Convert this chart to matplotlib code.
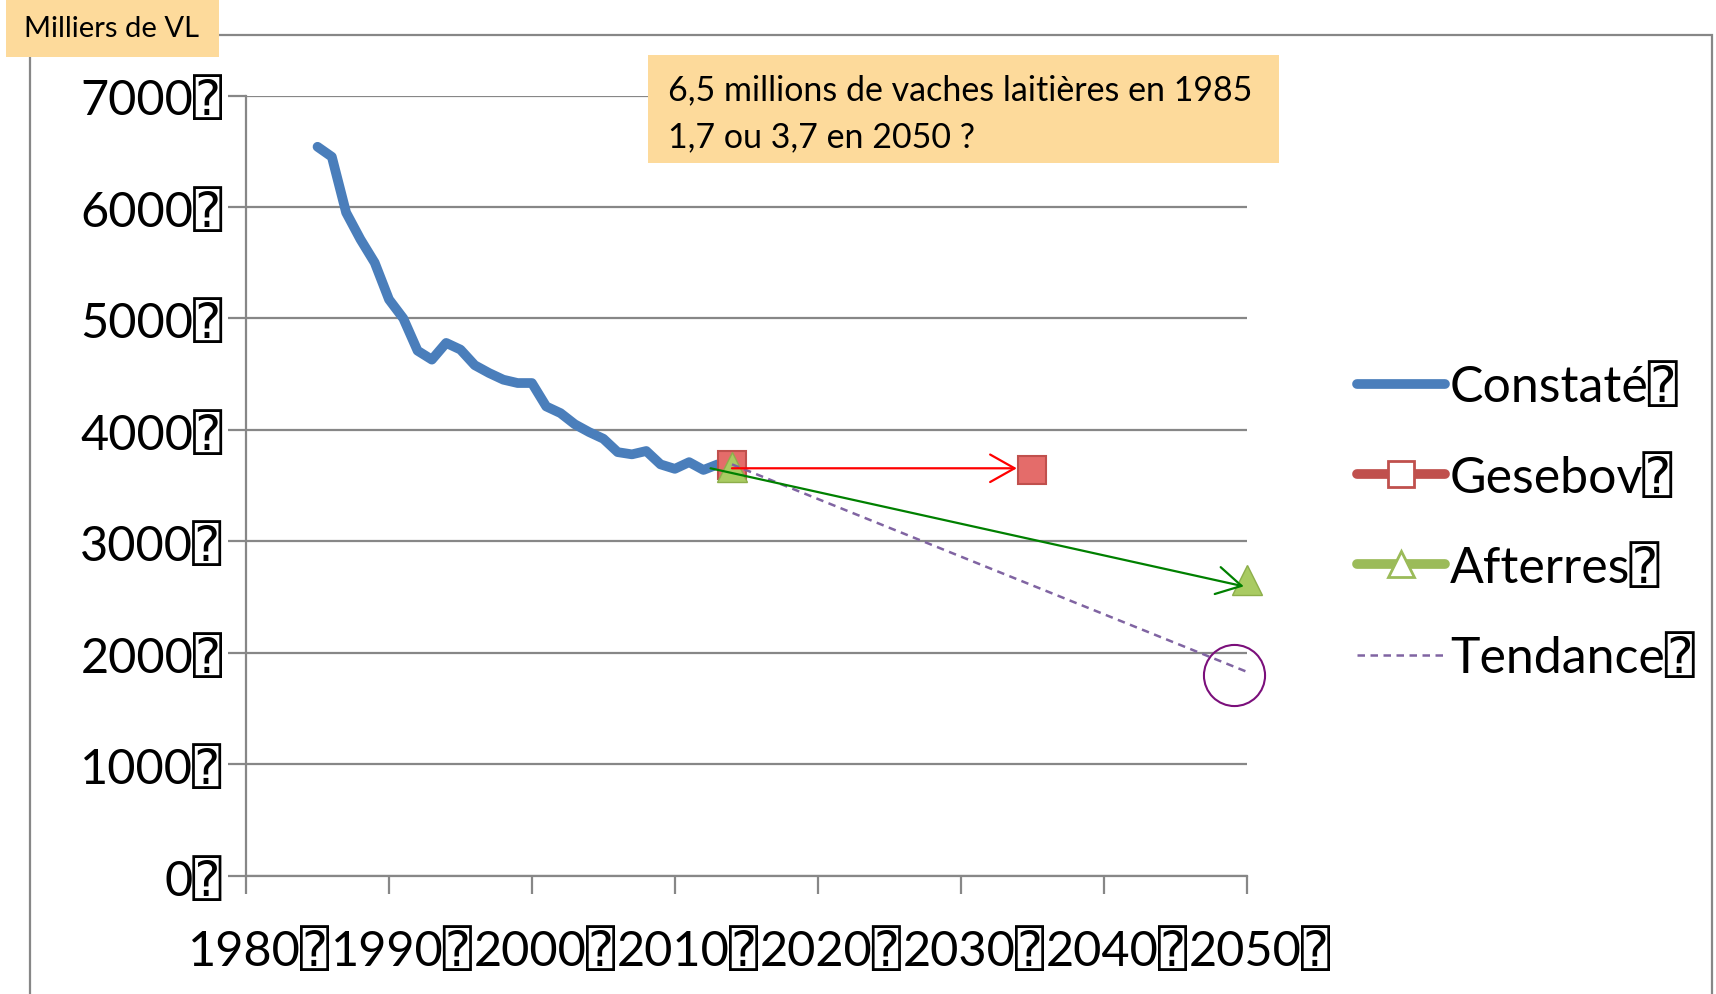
import matplotlib.pyplot as plt
import matplotlib.transforms as mtransforms
from matplotlib.lines import Line2D
from matplotlib.patches import Rectangle

# Observed dairy cow numbers (thousands)
years_obs = list(range(1985, 2014))
cows_obs = [6540, 6450, 5950, 5710, 5500, 5170, 5000, 4710, 4630, 4780,
            4720, 4580, 4510, 4450, 4420, 4420, 4210, 4150, 4050, 3980,
            3920, 3800, 3780, 3810, 3690, 3650, 3710, 3640, 3690]

# Scenarios
gesebov_years = [2014, 2035]
gesebov_values = [3680, 3640]
afterres_years = [2014, 2050]
afterres_values = [3665, 2650]
tendance_years = [2014, 2050]
tendance_values = [3690, 1830]

# Arrows drawn over the scenarios
red_arrow_years = [2014, 2035]
red_arrow_values = [3655, 3655]
green_arrow_years = [2012.5, 2050]
green_arrow_values = [3655, 2590]

# Highlight circle on the trend end
circle_year = 2049.1
circle_value = 1800

x_ticks = [1980, 1990, 2000, 2010, 2020, 2030, 2040, 2050]
y_ticks = [0, 1000, 2000, 3000, 4000, 5000, 6000, 7000]
box = '\u2370'

FONT = ['Lato', 'DejaVu Sans', 'DejaVu Sans Mono']
plt.rcParams['font.family'] = FONT

GRAY = '#878787'
BLUE = '#4A7EBB'
RED = '#C0504D'
GREEN = '#9BBB59'
PURPLE = '#8064A2'
ORANGE = '#FDDA9B'

fig = plt.figure(figsize=(17.16, 9.95), dpi=100)
ax = fig.add_axes([0.1434, 0.119, 0.5830, 0.784])

# outer chart frame and corner label
fig.add_artist(Rectangle((30 / 1716, -0.05), (1712 - 30) / 1716, 1.05 - 36 / 995,
                         transform=fig.transFigure, fill=False,
                         edgecolor=GRAY, lw=1.6, zorder=0))
fig.add_artist(Rectangle((6 / 1716, 1 - 58 / 995), 213 / 1716, 58 / 995,
                         transform=fig.transFigure, facecolor=ORANGE,
                         edgecolor='none', zorder=1))
fig.text(112 / 1716, 1 - 29 / 995, 'Milliers de VL', ha='center', va='center',
         fontsize=21, zorder=2)

# annotation box
fig.add_artist(Rectangle((648 / 1716, 1 - 164 / 995), 631 / 1716, 108 / 995,
                         transform=fig.transFigure, facecolor=ORANGE,
                         edgecolor='none', zorder=3))
fig.text(668 / 1716, 1 - 100 / 995, '6,5 millions de vaches laitières en 1985',
         ha='left', va='baseline', fontsize=24.5, zorder=4)
fig.text(668 / 1716, 1 - 147 / 995, '1,7 ou 3,7 en 2050 ?',
         ha='left', va='baseline', fontsize=24.5, zorder=4)

# series
ax.plot(years_obs, cows_obs, color=BLUE, lw=7, solid_capstyle='round',
        solid_joinstyle='round', zorder=3)
ax.plot(gesebov_years, gesebov_values, ls='none', marker='s', ms=20,
        mfc='#E46C6A', mec=RED, mew=1.5, zorder=4, clip_on=False)
ax.plot(afterres_years, afterres_values, ls='none', marker='^', ms=22,
        mfc='#A9CB62', mec='#8DAE4A', mew=1, zorder=5, clip_on=False)
ax.plot(tendance_years, tendance_values, color=PURPLE, lw=1.8,
        dashes=(3, 2.2), zorder=6, clip_on=False)

ax.annotate('', xy=(red_arrow_years[1], red_arrow_values[1]),
            xytext=(red_arrow_years[0], red_arrow_values[0]),
            arrowprops=dict(arrowstyle='->,head_length=0.8,head_width=0.45',
                            color='#FF0000', lw=1.6, shrinkA=0, shrinkB=11,
                            mutation_scale=22), zorder=7)
ax.annotate('', xy=(green_arrow_years[1], green_arrow_values[1]),
            xytext=(green_arrow_years[0], green_arrow_values[0]),
            arrowprops=dict(arrowstyle='->,head_length=0.8,head_width=0.45',
                            color='#008000', lw=1.6, shrinkA=0, shrinkB=2,
                            mutation_scale=22), zorder=7)
ax.plot(circle_year, circle_value, marker='o', ms=44, mfc='none',
        mec='#7B0F7B', mew=1.5, zorder=8, clip_on=False)

# axes styling
ax.set_xlim(1980, 2050)
ax.set_ylim(0, 7000)
ax.set_xticks(x_ticks)
ax.set_xticklabels([f'{t}{box}' for t in x_ticks])
ax.set_yticks(y_ticks)
ax.set_yticklabels([f'{t}{box}' for t in y_ticks])
ax.tick_params(axis='both', colors=GRAY, labelcolor='black', labelsize=35,
               length=13, width=1.6, direction='out')
ax.tick_params(axis='x', pad=24)
ax.tick_params(axis='y', pad=4)
ax.grid(axis='y', color=GRAY, lw=1.6)
ax.set_axisbelow(True)
for s in ['top', 'right']:
    ax.spines[s].set_visible(False)
for s in ['left', 'bottom']:
    ax.spines[s].set_color(GRAY)
    ax.spines[s].set_linewidth(1.6)

# nudge x labels a bit to the right, like the original
shift = mtransforms.ScaledTranslation(0.13, 0, fig.dpi_scale_trans)
for lbl in ax.get_xticklabels():
    lbl.set_transform(lbl.get_transform() + shift)

# legend
handles = [
    Line2D([], [], color=BLUE, lw=7, solid_capstyle='round'),
    Line2D([], [], color=RED, lw=7, solid_capstyle='round', marker='s',
           ms=19, mfc='white', mec=RED, mew=2),
    Line2D([], [], color=GREEN, lw=7, solid_capstyle='round', marker='^',
           ms=19, mfc='white', mec=GREEN, mew=2),
    Line2D([], [], color=PURPLE, lw=1.8, dashes=(3, 2.2)),
]
labels = [f'Constaté{box}', f'Gesebov{box}', f'Afterres{box}', f'Tendance{box}']
fig.legend(handles, labels, loc='center left', bbox_to_anchor=(0.7908, 0.474),
           frameon=False, fontsize=36, handlelength=1.75, handletextpad=0.11,
           labelspacing=0.87, borderpad=0, borderaxespad=0)

fig.savefig('out.png', dpi=100)
